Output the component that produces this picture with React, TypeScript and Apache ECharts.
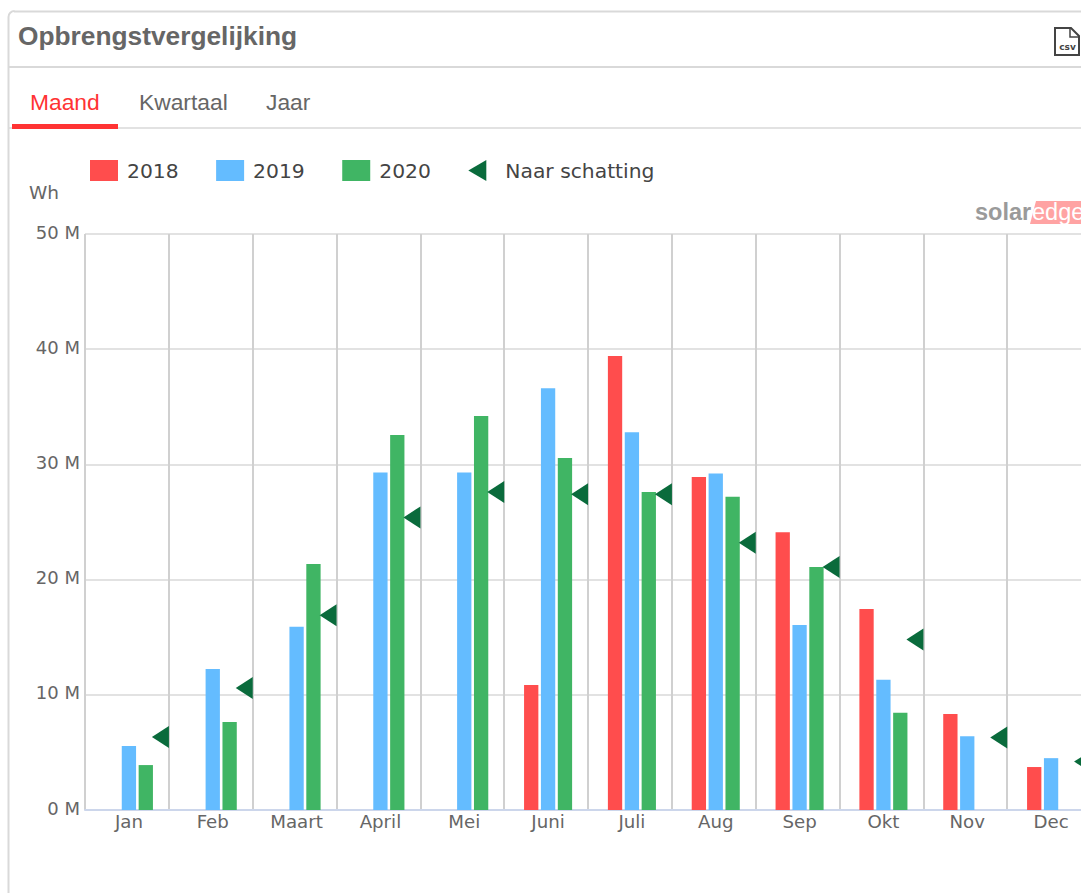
import React, { useEffect, useRef } from "react";
import * as echarts from "echarts";

const months = ["Jan", "Feb", "Maart", "April", "Mei", "Juni", "Juli", "Aug", "Sep", "Okt", "Nov", "Dec"];
const yTicks = [0, 10, 20, 30, 40, 50];
const values2018 = [null, null, null, null, null, 10.85, 39.4, 28.9, 24.1, 17.45, 8.33, 3.73];
const values2019 = [5.55, 12.24, 15.9, 29.3, 29.3, 36.6, 32.8, 29.2, 16.06, 11.3, 6.4, 4.5];
const values2020 = [3.9, 7.64, 21.35, 32.55, 34.2, 30.55, 27.6, 27.2, 21.1, 8.45, null, null];
const estimated = [6.34, 10.6, 16.9, 25.4, 27.6, 27.4, 27.4, 23.2, 21.1, 14.8, 6.3, 4.2];

const UI_FONT = "'Liberation Sans', Arial, sans-serif";
const CHART_FONT = "'DejaVu Sans', Verdana, sans-serif";
const RED = "#ff4d4d";
const BLUE = "#64bcff";
const GREEN = "#40b564";
const DARK = "#0a6b3c";
const TAB_RED = "#ff3333";
const RULE = "#d9d9d9";

const triangle = "path://M0 11L17 0L17 22Z";
const legendTriangle = "path://M0 0M28 21M0 10.5L18 0L18 21Z";

const barBase = { type: "bar", xAxisIndex: 1, yAxisIndex: 1, barWidth: 14.3, barGap: "18%" };

export default function App() {
  const ref = useRef<HTMLDivElement>(null);
  useEffect(() => {
    const chart = echarts.init(ref.current!, undefined, { renderer: "svg" });
    chart.setOption({
      animation: false,
      backgroundColor: "#fff",
      textStyle: { fontFamily: CHART_FONT },
      grid: [
        { left: 85, top: 234, width: 1006, height: 576, outerBoundsMode: "none" },
        { left: 87, top: 234, width: 1006, height: 576, outerBoundsMode: "none" },
      ],
      legend: {
        left: 90,
        top: 160,
        padding: 0,
        itemWidth: 28,
        itemHeight: 21,
        itemGap: 37.5,
        textStyle: { fontFamily: CHART_FONT, fontSize: 20.3, color: "#444", padding: [0, 0, 0, 4] },
        data: [
          { name: "2018", icon: "rect" },
          { name: "2019", icon: "rect" },
          { name: "2020", icon: "rect" },
          { name: "Naar schatting", icon: legendTriangle },
        ],
      },
      xAxis: [
        {
          type: "category",
          gridIndex: 0,
          data: months,
          axisLine: { lineStyle: { color: "#ccd6eb", width: 2 } },
          axisTick: { length: 16, lineStyle: { color: "#ccd6eb", width: 2 } },
          axisLabel: { show: false },
          splitLine: { show: true, lineStyle: { color: "#d0d0d0", width: 2 } },
        },
        {
          type: "category",
          gridIndex: 1,
          data: months,
          axisLine: { show: false },
          axisTick: { show: false },
          axisLabel: { color: "#666", fontSize: 18.2, margin: 2, fontFamily: CHART_FONT },
          splitLine: { show: false },
        },
      ],
      yAxis: [
        {
          type: "value",
          gridIndex: 0,
          min: 0,
          max: 50,
          interval: 10,
          axisLine: { show: false },
          axisTick: { show: false },
          axisLabel: {
            margin: 5,
            formatter: (v: number) => (yTicks.includes(v) ? `{a|${v} M}` : ""),
            rich: {
              a: { color: "#666", fontSize: 18, fontFamily: CHART_FONT, padding: [0, 0, 4, 0] },
            },
          },
          splitLine: { show: true, lineStyle: { color: "#e2e2e2", width: 2 } },
        },
        {
          type: "value",
          gridIndex: 1,
          min: 0,
          max: 50,
          show: false,
        },
      ],
      series: [
        { ...barBase, name: "2018", data: values2018, itemStyle: { color: RED } },
        { ...barBase, name: "2019", data: values2019, itemStyle: { color: BLUE } },
        { ...barBase, name: "2020", data: values2020, itemStyle: { color: GREEN } },
        {
          type: "scatter",
          name: "Naar schatting",
          xAxisIndex: 1,
          yAxisIndex: 1,
          data: estimated,
          symbol: triangle,
          symbolSize: [17, 22],
          symbolOffset: [31.5, 0],
          itemStyle: { color: DARK, opacity: 1 },
          clip: false,
          z: 5,
        },
      ],
      graphic: [
        { type: "line", shape: { x1: 14, y1: 11.5, x2: 1081, y2: 11.5 }, style: { stroke: RULE, lineWidth: 2 } },
        { type: "line", shape: { x1: 8.5, y1: 17, x2: 8.5, y2: 893 }, style: { stroke: RULE, lineWidth: 2 } },
        { type: "arc", shape: { cx: 14.5, cy: 17, r: 6, startAngle: Math.PI, endAngle: Math.PI * 1.5 }, style: { stroke: RULE, lineWidth: 2, fill: "none" } },
        { type: "line", shape: { x1: 9, y1: 67, x2: 1081, y2: 67 }, style: { stroke: RULE, lineWidth: 2 } },
        { type: "line", shape: { x1: 9, y1: 128, x2: 1081, y2: 128 }, style: { stroke: RULE, lineWidth: 1.5 } },
        { type: "rect", shape: { x: 12, y: 124, width: 106, height: 5 }, style: { fill: TAB_RED } },
        { type: "text", x: 18, y: 36, style: { text: "Opbrengstvergelijking", font: `bold 26.3px ${UI_FONT}`, fill: "#666", verticalAlign: "middle" } },
        { type: "text", x: 30, y: 102, style: { text: "Maand", font: `22.8px ${UI_FONT}`, fill: TAB_RED, verticalAlign: "middle" } },
        { type: "text", x: 139, y: 102, style: { text: "Kwartaal", font: `22.8px ${UI_FONT}`, fill: "#666", verticalAlign: "middle" } },
        { type: "text", x: 266, y: 102, style: { text: "Jaar", font: `22.8px ${UI_FONT}`, fill: "#666", verticalAlign: "middle" } },
        { type: "text", x: 29, y: 192, style: { text: "Wh", font: `18.5px ${CHART_FONT}`, fill: "#666", verticalAlign: "middle" } },
        { type: "polygon", shape: { points: [[1055, 28], [1071, 28], [1079, 36], [1079, 55], [1055, 55]] }, style: { fill: "#fff", stroke: "#444", lineWidth: 2 } },
        { type: "polyline", shape: { points: [[1070, 29], [1070, 37], [1078, 37]] }, style: { fill: "none", stroke: "#444", lineWidth: 1.5 } },
        { type: "text", x: 1067.5, y: 47, style: { text: "csv", font: `bold 9px ${CHART_FONT}`, fill: "#444", align: "center", verticalAlign: "middle" } },
        { type: "polygon", shape: { points: [[1036, 201], [1081, 201], [1081, 224], [1030, 224]] }, style: { fill: "#ffa3a3" } },
        { type: "text", x: 975, y: 212, style: { text: "solar", font: `bold 23.5px ${UI_FONT}`, fill: "#9a9a9a", verticalAlign: "middle" } },
        { type: "text", x: 1032, y: 212, style: { text: "edge", font: `23.5px ${UI_FONT}`, fill: "#fff", verticalAlign: "middle" } },
      ],
    });
    return () => chart.dispose();
  }, []);
  return (
    <div
      ref={ref}
      style={{ position: "absolute", left: 0, top: 0, width: 1081, height: 893, overflow: "hidden" }}
    />
  );
}
